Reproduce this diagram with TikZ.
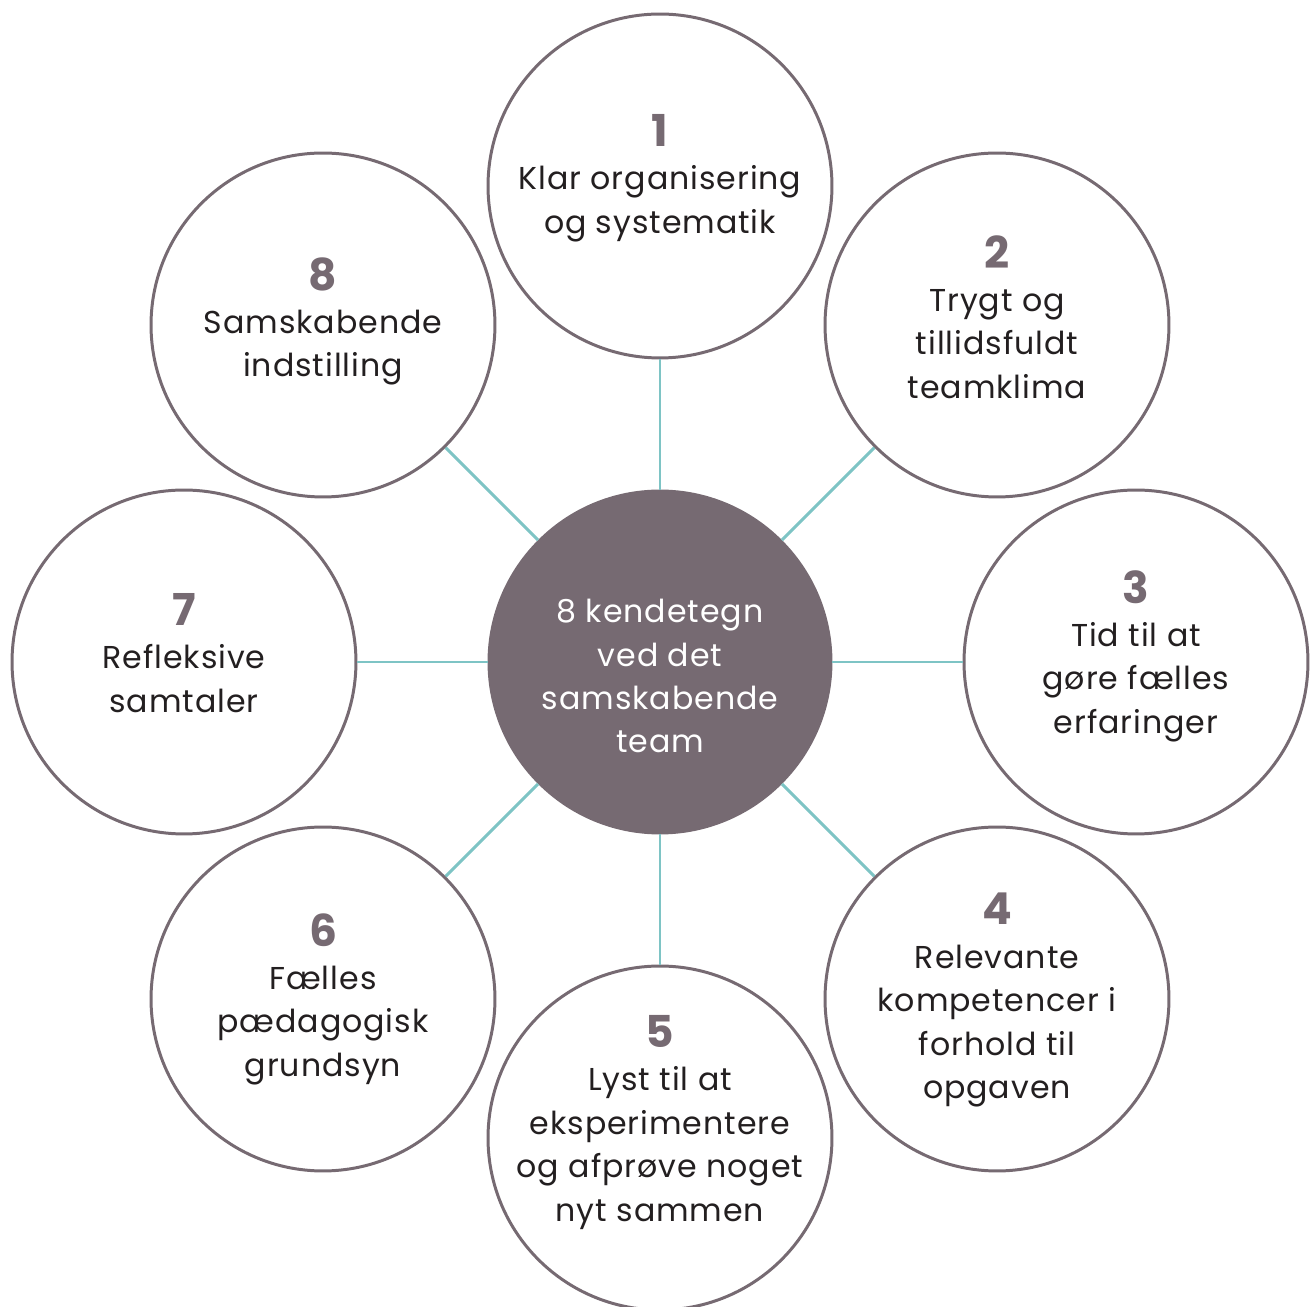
\documentclass[tikz,border=0pt]{standalone}
\usepackage{fontspec}
\setmainfont[LetterSpace=3]{Poppins}
\definecolor{mauve}{HTML}{766A72}
\definecolor{aqua}{HTML}{7EC4C5}
\definecolor{ink}{HTML}{231F20}
\newcommand{\nr}[1]{{\fontsize{25}{24.7}\selectfont\bfseries\color{mauve}#1}}

\begin{document}
\begin{tikzpicture}[x=0.02cm, y=0.02cm,
  ring/.style={circle, draw=mauve, line width=1.7pt, fill=white, minimum size=6.88cm, inner sep=0pt},
  hub/.style={circle, draw=mauve, fill=mauve, line width=1.7pt, minimum size=6.84cm, inner sep=0pt},
  spoke/.style={draw=aqua, line width=1.7pt},
  txt/.style={align=center, anchor=north, inner sep=0pt, text=ink, font=\fontsize{18}{24.7}\selectfont}]
  \useasboundingbox (-660,-645) rectangle (652,662);

  \node [hub] (hub) at (0,0) {};
  \node [ring] (c1) at (0,476) {};
  \node [ring] (c2) at (337,337) {};
  \node [ring] (c3) at (476,0) {};
  \node [ring] (c4) at (337,-337) {};
  \node [ring] (c5) at (0,-476) {};
  \node [ring] (c6) at (-337,-337) {};
  \node [ring] (c7) at (-476,0) {};
  \node [ring] (c8) at (-337,337) {};

  \draw[spoke] (hub) -- (c1);
  \draw[spoke] (hub) -- (c2);
  \draw[spoke] (hub) -- (c3);
  \draw[spoke] (hub) -- (c4);
  \draw[spoke] (hub) -- (c5);
  \draw[spoke] (hub) -- (c6);
  \draw[spoke] (hub) -- (c7);
  \draw[spoke] (hub) -- (c8);

  \node [txt, text=white] (thub) at ([yshift=63*0.02cm]hub.center) {8 kendetegn\\ved det\\samskabende\\team};
  \node [txt] (t1) at ([yshift=72*0.02cm]c1.center) {\nr{1}\\Klar organisering\\og systematik};
  \node [txt] (t2) at ([yshift=90*0.02cm]c2.center) {\nr{2}\\Trygt og\\tillidsfuldt\\teamklima};
  \node [txt] (t3) at ([yshift=92*0.02cm]c3.center) {\nr{3}\\Tid til at\\gøre fælles\\erfaringer};
  \node [txt] (t4) at ([yshift=106*0.02cm]c4.center) {\nr{4}\\Relevante\\kompetencer i\\forhold til\\opgaven};
  \node [txt] (t5) at ([yshift=123*0.02cm]c5.center) {\nr{5}\\Lyst til at\\eksperimentere\\og afprøve noget\\nyt sammen};
  \node [txt] (t6) at ([yshift=86*0.02cm]c6.center) {\nr{6}\\Fælles\\pædagogisk\\grundsyn};
  \node [txt] (t7) at ([yshift=69*0.02cm]c7.center) {\nr{7}\\Refleksive\\samtaler};
  \node [txt] (t8) at ([yshift=68*0.02cm]c8.center) {\nr{8}\\Samskabende\\indstilling};
\end{tikzpicture}
\end{document}
